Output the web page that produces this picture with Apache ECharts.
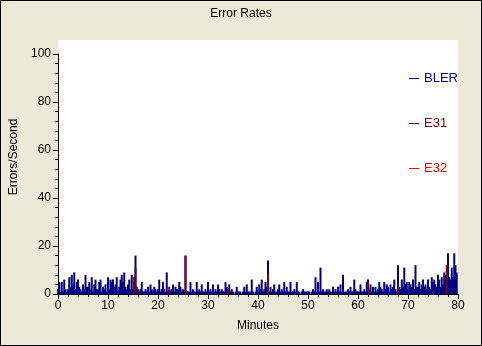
<!DOCTYPE html>
<html>
<head>
<meta charset="utf-8">
<script src="https://cdn.jsdelivr.net/npm/echarts@6/dist/echarts.min.js"></script>
<style>html,body{margin:0;padding:0;background:#ECE9D8;}#c{width:482px;height:346px;}</style>
</head>
<body>
<div id="c"></div>
<script>
// Sample spacing in minutes for the BLER series (one bar per sample)
const sampleStep = 0.25;
// BLER errors/second, 8 samples per 2-minute row, 0..80 min
const blerValues = [
  2,5,1,5,1,6,2,1,
  2,7,3,8,4,9,2,5,
  6,3,2,1,4,2,8,3,
  3,5,2,7,1,4,6,2,
  2,5,6,1,3,2,4,1,
  7,2,6,5,6,3,4,7,
  1,3,6,8,5,9,3,2,
  4,6,2,8,2,7,16,3,
  2,1,2,5,1,1,2,1,
  3,1,4,2,1,3,2,1,
  2,6,1,2,5,2,1,9,
  1,3,1,2,4,1,3,2,
  2,5,3,1,2,1,16,1,
  1,1,5,1,2,1,1,5,
  1,2,1,4,1,1,2,1,
  5,1,2,1,4,1,2,1,
  4,2,1,2,1,1,5,3,
  2,4,1,2,1,0,1,3,
  1,1,1,0,1,3,1,4,
  1,1,1,6,1,0,1,3,
  1,4,2,6,1,2,5,3,
  14,1,3,1,2,4,1,1,
  2,4,1,2,1,5,1,3,
  1,1,5,1,1,2,1,5,
  1,1,0,1,2,1,1,1,
  1,1,0,1,2,1,7,1,
  5,1,11,1,2,1,1,2,
  1,2,1,1,3,1,2,1,
  3,1,4,1,8,1,1,1,
  2,1,3,1,1,6,2,1,
  1,1,4,1,1,2,1,5,
  6,2,4,1,3,1,3,1,
  2,5,3,2,1,5,2,4,
  3,1,4,2,3,6,2,1,
  12,3,2,6,3,11,4,5,
  2,5,4,3,6,2,12,3,
  3,5,2,4,6,3,4,2,
  6,3,2,7,5,6,4,3,
  8,6,3,7,4,9,8,5,
  17,7,6,11,7,17,12,9
];
// E31 spikes
const e31Minutes = [15.25, 15.5, 22.25, 25.5, 34, 42, 55.5, 62, 68, 75, 77.75];
const e31Values  = [5, 11, 2, 16, 2, 8, 1, 5, 3, 1, 12];
// E32 (no visible spikes)
const e32Minutes = [];
const e32Values  = [];

const blerData = blerValues.map((v, i) => [i * sampleStep, v]);
const e31Data = e31Minutes.map((m, i) => [m, e31Values[i]]);
const e32Data = e32Minutes.map((m, i) => [m, e32Values[i]]);

const font = 'Liberation Sans';
const chart = echarts.init(document.getElementById('c'), null, {renderer: 'canvas'});
chart.setOption({
  backgroundColor: '#ECE9D8',
  animation: false,
  title: {
    text: 'Error Rates', left: 'center', top: 3,
    textStyle: {fontFamily: font, fontSize: 12, fontWeight: 'normal', color: '#000'}
  },
  graphic: [
    {type: 'rect', z: -10, shape: {x: 58, y: 40, width: 400, height: 254}, style: {fill: '#fff'}},
    {type: 'rect', z: 100, shape: {x: 0.5, y: 0.5, width: 481, height: 345}, style: {fill: 'none', stroke: '#000', lineWidth: 1}},
    {type: 'text', z: 100, x: 14, y: 157, rotation: Math.PI / 2,
     style: {text: 'Errors/Second', font: '12px ' + font, fill: '#000', align: 'center', verticalAlign: 'middle'}}
  ],
  legend: {
    orient: 'vertical', left: 404, top: 67, itemGap: 32,
    itemWidth: 10, itemHeight: 1, icon: 'rect',
    textStyle: {fontFamily: font, fontSize: 13},
    data: [
      {name: 'BLER', textStyle: {color: '#000080'}},
      {name: 'E31', textStyle: {color: '#800000'}},
      {name: 'E32', textStyle: {color: '#FF0000'}}
    ]
  },
  grid: {left: 58, right: 24, top: 54, bottom: 52},
  xAxis: {
    type: 'value', min: 0, max: 80, interval: 10,
    name: 'Minutes', nameLocation: 'middle', nameGap: 26,
    nameTextStyle: {fontFamily: font, fontSize: 12, color: '#000'},
    axisLine: {lineStyle: {color: '#000', width: 1}},
    axisTick: {length: 5, lineStyle: {color: '#000'}},
    minorTick: {show: true, splitNumber: 5, length: 3, lineStyle: {color: '#000'}},
    axisLabel: {fontFamily: font, fontSize: 12, color: '#000', margin: 6},
    splitLine: {show: false}
  },
  yAxis: {
    type: 'value', min: 0, max: 100, interval: 20,
    axisLine: {show: true, lineStyle: {color: '#000', width: 1}},
    axisTick: {show: true, length: 5, lineStyle: {color: '#000'}},
    minorTick: {show: true, splitNumber: 5, length: 3, lineStyle: {color: '#000'}},
    axisLabel: {fontFamily: font, fontSize: 12, color: '#000', margin: 7},
    splitLine: {show: false}
  },
  series: [
    {name: 'BLER', type: 'bar', data: blerData, barWidth: 2, barGap: '-100%',
     itemStyle: {color: '#000080'}},
    {name: 'E31', type: 'bar', data: e31Data, barWidth: 2, barGap: '-100%',
     itemStyle: {color: '#800000'}},
    {name: 'E32', type: 'bar', data: e32Data, barWidth: 2, barGap: '-100%',
     itemStyle: {color: '#FF0000'}}
  ]
});
</script>
</body>
</html>
